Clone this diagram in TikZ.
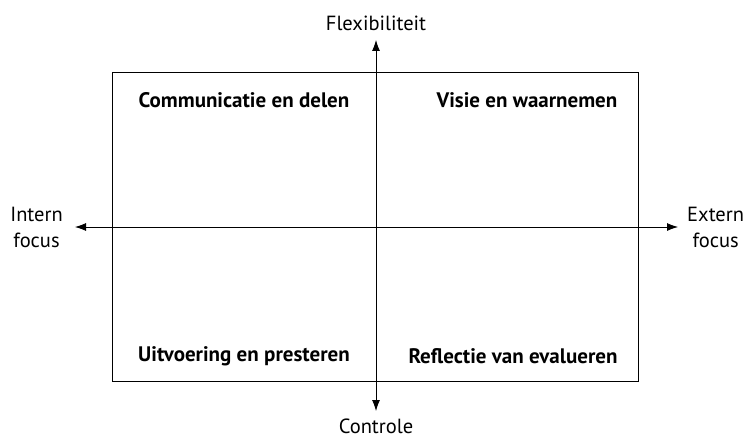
\documentclass[tikz,border=0pt]{standalone}
\usepackage{fontspec}
\setmainfont{PT Sans}
\usetikzlibrary{positioning,arrows.meta}

\tikzset{
  as/.style={line width=0.8pt, -{Latex[length=11pt,width=8pt]}},
  kwadrant/.style={font=\bfseries\fontsize{21}{24}\selectfont, inner sep=0pt},
  aslabel/.style={font=\fontsize{20.5}{26}\selectfont, align=center, inner sep=0pt}
}

\begin{document}
\begin{tikzpicture}[x=1pt,y=-1pt]
  \useasboundingbox (0,0) rectangle (750,444);
  \draw[line width=0.8pt] (112,72) rectangle (638,381); % kader
  \coordinate (midden) at (376,227);
  \coordinate (boven) at (376,40);
  \coordinate (onder) at (376,411);
  \coordinate (links) at (75,227);
  \coordinate (rechts) at (678,227);
  \draw[as] (midden) -- (boven);
  \draw[as] (midden) -- (onder);
  \draw[as] (midden) -- (links);
  \draw[as] (midden) -- (rechts);
  % aslabels
  \node[aslabel, above=9pt of boven] (flex) {Flexibiliteit};
  \node[aslabel, below=8pt of onder] (contr) {Controle};
  \node[aslabel, left=12pt of links] (intern) {Intern\\focus};
  \node[aslabel, right=9pt of rechts] (extern) {Extern\\focus};
  % kwadranten
  \node[kwadrant] (comm) at (244,100) {Communicatie en delen};
  \node[kwadrant] (visie) at (527,100) {Visie en waarnemen};
  \node[kwadrant] (uitv) at (244,356) {Uitvoering en presteren};
  \node[kwadrant] (refl) at (513,356) {Reflectie van evalueren};
\end{tikzpicture}
\end{document}
